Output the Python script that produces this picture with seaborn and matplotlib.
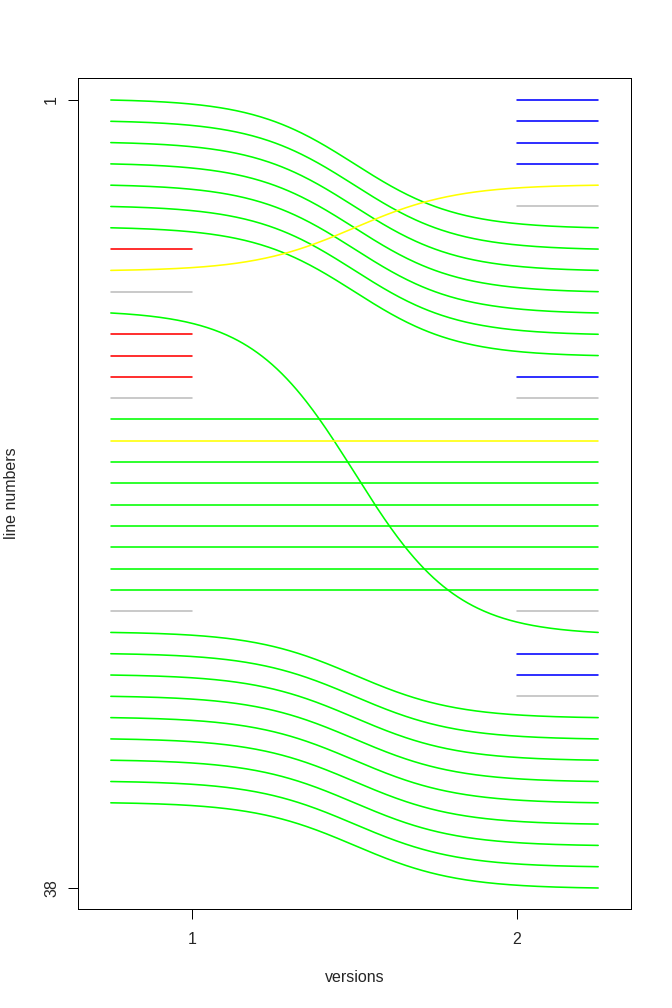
import numpy as np
import pandas as pd
import matplotlib
matplotlib.use("Agg")
import matplotlib.pyplot as plt
import seaborn as sns

# ---- data: line mapping between version 1 and version 2 ----
# matched lines: (old line, new line, colour)
matched_old = [1, 2, 3, 4, 5, 6, 7, 9, 11, 16, 17, 18, 19, 20, 21, 22, 23, 24,
               26, 27, 28, 29, 30, 31, 32, 33, 34]
matched_new = [7, 8, 9, 10, 11, 12, 13, 5, 26, 16, 17, 18, 19, 20, 21, 22, 23, 24,
               30, 31, 32, 33, 34, 35, 36, 37, 38]
matched_col = ["green"] * 7 + ["yellow", "green", "green", "yellow"] + ["green"] * 16

# lines only in version 1
left_only = [8, 10, 12, 13, 14, 15, 25]
left_only_col = ["red", "grey", "red", "red", "red", "grey", "grey"]

# lines only in version 2
right_only = [1, 2, 3, 4, 6, 14, 15, 25, 27, 28, 29]
right_only_col = ["blue", "blue", "blue", "blue", "grey", "blue", "grey", "grey",
                  "blue", "blue", "grey"]

versions = [1, 2]
y_ticks = [1, 38]

colour_map = {"green": "#00FF00", "yellow": "#FFFF00", "red": "#FF0000",
              "blue": "#0000FF", "grey": "#BEBEBE"}

# ---- build long table of segments ----
x0, x1 = 0.75, 2.25
k = 9.5
def sig(t):
    L = 1 / (1 + np.exp(-k * (t - 0.5)))
    L0 = 1 / (1 + np.exp(k * 0.5))
    L1 = 1 / (1 + np.exp(-k * 0.5))
    return (L - L0) / (L1 - L0)

rows = []
seg_colours = {}
sid = 0
xs = np.linspace(x0, x1, 300)
t = (xs - x0) / (x1 - x0)
for o, n, c in zip(matched_old, matched_new, matched_col):
    ys = o + (n - o) * sig(t)
    for xv, yv in zip(xs, ys):
        rows.append((sid, xv, yv))
    seg_colours[sid] = colour_map[c]
    sid += 1
for o, c in zip(left_only, left_only_col):
    for xv in (x0, 1.0):
        rows.append((sid, xv, o))
    seg_colours[sid] = colour_map[c]
    sid += 1
for n, c in zip(right_only, right_only_col):
    for xv in (2.0, x1):
        rows.append((sid, xv, n))
    seg_colours[sid] = colour_map[c]
    sid += 1

df = pd.DataFrame(rows, columns=["seg", "x", "y"])

sns.set_style("white")
plt.rcParams["font.family"] = ["Liberation Sans", "DejaVu Sans"]

fig = plt.figure(figsize=(7, 10.5), dpi=96)
ax = fig.add_axes([78 / 672, 1 - 909 / 1008, (631 - 78) / 672, (909 - 78) / 1008])

sns.lineplot(data=df, x="x", y="y", hue="seg", units="seg", estimator=None,
             sort=False, palette=seg_colours, legend=False, linewidth=1.2, ax=ax)

ax.set_xlim(0.649, 2.351)
ax.set_ylim(38.986, -0.033)
ax.set_xticks(versions)
ax.set_xticklabels([str(v) for v in versions], fontsize=12)
ax.set_yticks(y_ticks)
ax.set_yticklabels([str(v) for v in y_ticks], fontsize=12, rotation=90, va="center")
ax.tick_params(axis="x", bottom=True, length=7.2, width=0.75, color="black", pad=10,
               direction="out")
ax.tick_params(axis="y", left=True, length=7.2, width=0.75, color="black", pad=7,
               direction="out")
for s in ax.spines.values():
    s.set_visible(True)
    s.set_color("black")
    s.set_linewidth(0.75)
ax.set_xlabel("")
ax.set_ylabel("")
fig.text(355 / 672, 1 - 977 / 1008, "versions", ha="center", va="center", fontsize=12)
fig.text(12 / 672, 1 - 493 / 1008, "line numbers", ha="center", va="center",
         rotation=90, fontsize=12)
ax.grid(False)

fig.savefig("out.png", dpi=96, facecolor="white")
